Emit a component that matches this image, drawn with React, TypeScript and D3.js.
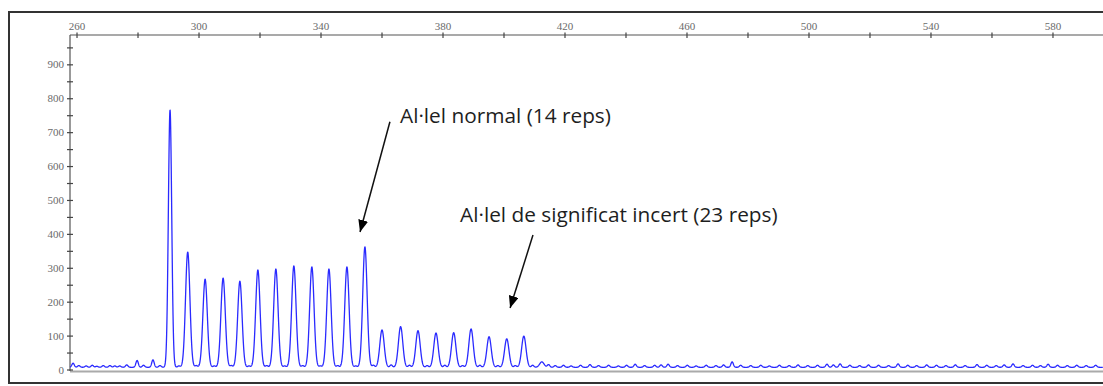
import React from "react";
import * as d3 from "d3";

// Top axis (fragment size, bp)
const xLabelTicks = [260, 300, 340, 380, 420, 460, 500, 540, 580];
const xMinorTicks = [280, 320, 360, 400, 440, 480, 520, 560];
// Left axis (RFU)
const yLabelTicks = [0, 100, 200, 300, 400, 500, 600, 700, 800, 900];
const yMinorTicks = [50, 150, 250, 350, 450, 550, 650, 750, 850, 950];

// Main peaks (size in bp, height in RFU)
const peakSizes = [
  290.5, 296.3, 302.0, 307.9, 313.4, 319.3, 325.2, 331.1, 337.0, 342.6, 348.5,
  354.4, 360.0, 366.1, 371.8, 377.7, 383.5, 389.2, 395.1, 400.9, 406.5, 412.4,
];
const peakHeights = [
  767, 348, 268, 271, 262, 295, 298, 307, 304, 298, 304, 363, 118, 128, 116,
  109, 110, 121, 98, 92, 100, 24,
];
// Small baseline bumps (size in bp, height in RFU)
const bumpSizes = [
  258.7, 260.6, 263.0, 265.0, 266.5, 268.6, 270.8, 272.4, 274.0, 276.3, 279.7,
  281.8, 284.9, 287.2, 293.4, 299.1, 305.0, 310.6, 316.4, 322.2, 328.1, 334.0,
  339.8, 345.5, 351.4, 357.2, 363.0, 369.0, 374.8, 380.6, 386.4, 392.1, 398.0,
  403.7, 409.4, 414.6, 416.8, 419.5, 422.0, 425.1, 428.2, 431.0, 434.3, 437.5,
  440.2, 443.0, 446.1, 449.4, 451.5, 453.8, 456.9, 460.1, 463.0, 466.3, 469.5,
  472.0, 474.8, 477.6, 480.9, 484.2, 487.0, 490.3, 493.5, 496.4, 499.6, 502.8,
  505.9, 508.0, 510.2, 513.4, 516.6, 519.5, 522.8, 526.1, 529.2, 532.4, 535.3,
  538.6, 541.8, 544.9, 548.0, 551.2, 555.1, 558.3, 561.4, 564.0, 566.9, 570.2,
  573.3, 575.9, 578.4, 581.5, 584.7, 587.8, 590.9, 594.0,
];
const bumpHeights = [
  20, 13, 12, 14, 11, 13, 13, 12, 12, 15, 28,
  14, 30, 13, 12, 13, 12, 13, 12, 13, 12, 13,
  12, 13, 12, 14, 15, 14, 13, 14, 13, 14, 13,
  13, 14, 16, 13, 14, 12, 14, 16, 13, 14, 12,
  14, 17, 13, 14, 15, 17, 13, 14, 12, 14, 13,
  15, 24, 14, 13, 14, 12, 14, 13, 15, 13, 14,
  17, 15, 18, 14, 13, 15, 14, 13, 18, 14, 13,
  15, 14, 13, 15, 13, 16, 14, 13, 15, 18, 13,
  14, 13, 17, 14, 13, 14, 13, 14,
];
const baselineLevel = 8;

// Annotations (positions in data units: size, RFU)
const annotationTexts = ["Al·lel normal (14 reps)", "Al·lel de significat incert (23 reps)"];
const annotationTextPos = [
  [365.9, 729],
  [385.6, 437],
];
const annotationArrowFrom = [
  [362.6, 732],
  [409.5, 398],
];
const annotationArrowTo = [
  [352.8, 407],
  [402.0, 183],
];

const W = 1103;
const H = 386;

export default function App() {
  const x = d3.scaleLinear().domain([257.7, 596.4]).range([70, 1103]);
  const y = d3.scaleLinear().domain([0, 988]).range([370, 35]);

  const samples = d3.range(257.7, 596.4, 0.06);
  const trace: [number, number][] = samples.map((s) => {
    let v = baselineLevel;
    peakSizes.forEach((p, i) => {
      const sig = i === 0 ? 0.55 : 0.72;
      v += (peakHeights[i] - baselineLevel) * Math.exp(-((s - p) ** 2) / (2 * sig * sig));
    });
    bumpSizes.forEach((p, i) => {
      const sig = 0.4;
      v += (bumpHeights[i] - baselineLevel) * Math.exp(-((s - p) ** 2) / (2 * sig * sig));
    });
    return [s, v];
  });
  const line = d3
    .line<[number, number]>()
    .x((d) => x(d[0]))
    .y((d) => y(d[1]));

  const tickFont = { fontFamily: "Liberation Serif", fontSize: 11, fill: "#6a6a6a" };

  return (
    <div style={{ position: "absolute", left: 0, top: 0 }}>
      <svg width={W} height={H} style={{ display: "block", background: "#fff" }}>
        <defs>
          <marker
            id="ah"
            viewBox="0 0 12 10"
            refX="12"
            refY="5"
            markerWidth="12"
            markerHeight="10"
            markerUnits="userSpaceOnUse"
            orient="auto"
          >
            <path d="M0,0 L12,5 L0,10 Z" fill="#000" />
          </marker>
        </defs>
        {/* frame */}
        <line x1={9} y1={12} x2={W} y2={12} stroke="#333" strokeWidth={2} />
        <line x1={9} y1={383} x2={W} y2={383} stroke="#333" strokeWidth={2} />
        <line x1={9} y1={11} x2={9} y2={384} stroke="#333" strokeWidth={2} />

        {/* bottom grey line */}
        <line x1={70} y1={371.5} x2={W} y2={371.5} stroke="#aaa" strokeWidth={2} />

        {/* top axis */}
        <line x1={70} y1={35} x2={W} y2={35} stroke="#555" strokeWidth={1.2} />
        {xLabelTicks.concat(xMinorTicks).map((t) => (
          <line key={"xt" + t} x1={x(t)} x2={x(t)} y1={32.5} y2={38} stroke="#444" strokeWidth={1.2} />
        ))}
        {xLabelTicks.map((t) => (
          <text key={"xl" + t} x={x(t)} y={30} textAnchor="middle" style={tickFont}>
            {t}
          </text>
        ))}

        {/* left axis */}
        <line x1={70} y1={35} x2={70} y2={371} stroke="#555" strokeWidth={1.2} />
        {yLabelTicks.concat(yMinorTicks).map((t) => (
          <line key={"yt" + t} x1={67} x2={73} y1={y(t)} y2={y(t)} stroke="#444" strokeWidth={1.2} />
        ))}
        {yLabelTicks.map((t) => (
          <text key={"yl" + t} x={64} y={y(t)} dy="0.33em" textAnchor="end" style={tickFont}>
            {t}
          </text>
        ))}

        {/* trace */}
        <path d={line(trace) || ""} fill="none" stroke="#2a2aff" strokeWidth={1.3} strokeLinejoin="round" />

        {/* annotations */}
        {annotationTexts.map((t, i) => (
          <g key={"an" + i}>
            <line
              x1={x(annotationArrowFrom[i][0])}
              y1={y(annotationArrowFrom[i][1])}
              x2={x(annotationArrowTo[i][0])}
              y2={y(annotationArrowTo[i][1])}
              stroke="#111"
              strokeWidth={1.5}
              markerEnd="url(#ah)"
            />
            <text
              x={x(annotationTextPos[i][0])}
              y={y(annotationTextPos[i][1])}
              style={{ fontFamily: "Open Sans", fontSize: 20.8, fill: "#1e1e1e" }}
            >
              {t}
            </text>
          </g>
        ))}
      </svg>
    </div>
  );
}
